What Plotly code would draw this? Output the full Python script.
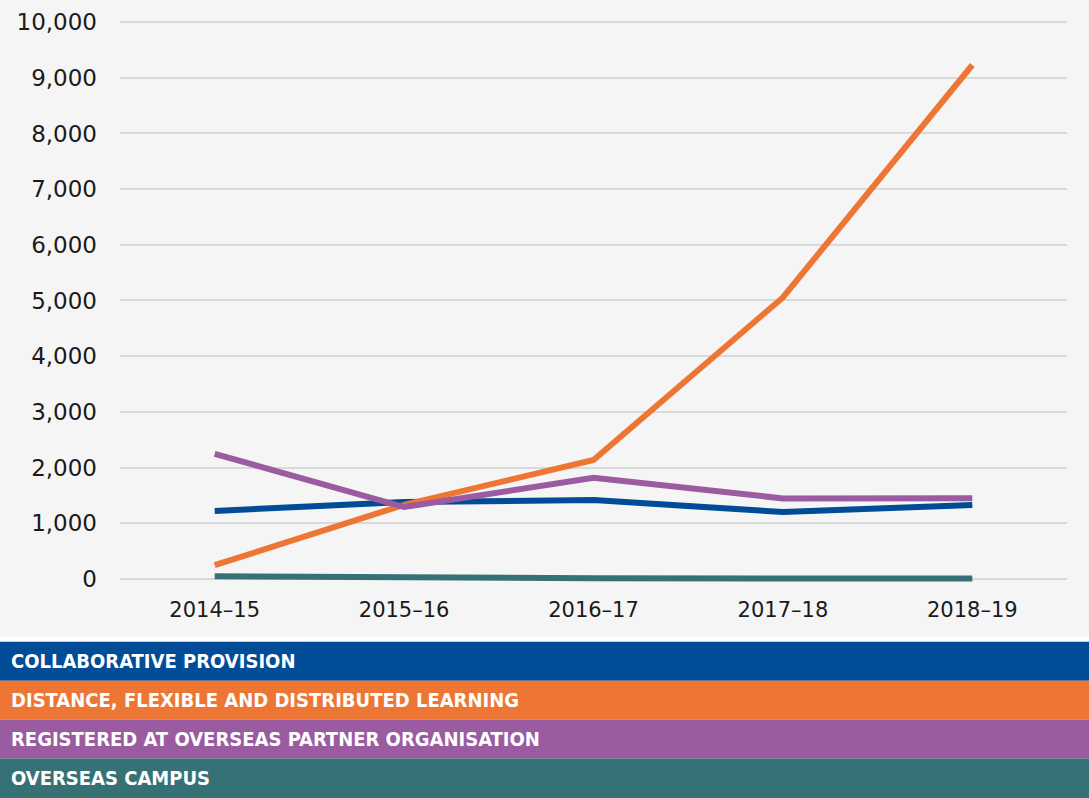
import plotly.graph_objects as go

years = ["2014–15", "2015–16", "2016–17", "2017–18", "2018–19"]
collaborative = [1220, 1380, 1415, 1200, 1325]
distance = [245, 1330, 2135, 5055, 9230]
registered = [2245, 1290, 1815, 1445, 1450]
overseas_campus = [48, 20, 10, 5, 5]

series_names = [
    "COLLABORATIVE PROVISION",
    "DISTANCE, FLEXIBLE AND DISTRIBUTED LEARNING",
    "REGISTERED AT OVERSEAS PARTNER ORGANISATION",
    "OVERSEAS CAMPUS",
]
series_values = [collaborative, distance, registered, overseas_campus]
series_colors = ["#004C97", "#EE7635", "#9B5BA0", "#367275"]

W, H = 1089, 798
ML, MR, MT, MB = 120, 22, 9, 203
plot_h = H - MT - MB


def py(p):
    """pixel y (from top) -> paper y"""
    return (H - MB - p) / plot_h


def px(p):
    return (p - ML) / (W - ML - MR)


fig = go.Figure()
for name, vals, col in zip(series_names, series_values, series_colors):
    fig.add_trace(go.Scatter(
        x=years, y=vals, mode="lines", name=name,
        line=dict(color=col, width=6),
        showlegend=False,
    ))

shapes = []
annotations = []
# white strip between chart area and legend bands
shapes.append(dict(type="rect", xref="paper", yref="paper",
                   x0=px(0), x1=px(W), y0=py(642), y1=py(637),
                   fillcolor="white", line=dict(width=0), layer="below"))
band_top = 642
band_h = 39
for i, (name, col) in enumerate(zip(series_names, series_colors)):
    t = band_top + i * band_h
    b = t + band_h if i < len(series_names) - 1 else H + 2
    shapes.append(dict(type="rect", xref="paper", yref="paper",
                       x0=px(-2), x1=px(W + 2), y0=py(b), y1=py(t),
                       fillcolor=col, line=dict(width=0), layer="below"))
    annotations.append(dict(
        xref="paper", yref="paper", x=px(9), y=py(t + band_h / 2),
        xanchor="left", yanchor="middle", showarrow=False, text=name,
        font=dict(family="Liberation Sans Narrow, DejaVu Sans Condensed, Arial Narrow, sans-serif",
                  size=20, color="white", weight="bold"),
    ))

fig.update_layout(
    width=W, height=H,
    margin=dict(l=ML, r=MR, t=MT, b=MB),
    paper_bgcolor="#f5f5f5", plot_bgcolor="#f5f5f5",
    shapes=shapes, annotations=annotations,
    xaxis=dict(type="category", range=[-0.5, 4.5], showgrid=False,
               showline=False, zeroline=False, ticks="",
               tickfont=dict(family="DejaVu Sans", size=21, color="#1a1a1a")),
    yaxis=dict(range=[-290, 10200], tickvals=list(range(0, 10001, 1000)),
               tickformat=",d", showgrid=True, gridcolor="#d9d9d9",
               gridwidth=2, zeroline=False, showline=False, ticks="",
               ticklabelstandoff=22,
               tickfont=dict(family="DejaVu Sans", size=23, color="#1a1a1a")),
)

fig.write_html(
    "out.html",
    config={"displayModeBar": False},
    post_script="document.body.style.margin='0';document.body.style.padding='0';"
                "document.body.style.overflow='hidden';",
)
